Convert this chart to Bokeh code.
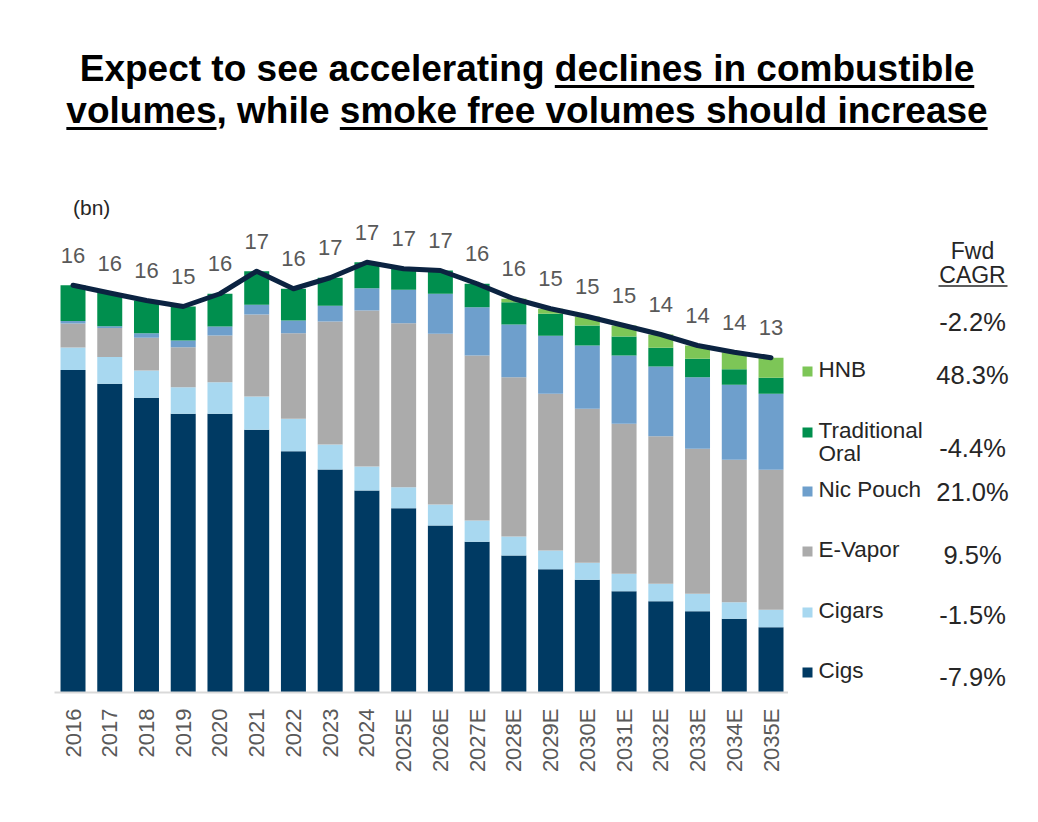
import math
from bokeh.plotting import figure
from bokeh.models import Range1d, FixedTicker, Label, Div, ColumnDataSource
from bokeh.layouts import column, row
from bokeh.embed import file_html
from bokeh.resources import INLINE
from bokeh.core.properties import value

# ---------------- data ----------------
years = ["2016", "2017", "2018", "2019", "2020", "2021", "2022", "2023", "2024",
         "2025E", "2026E", "2027E", "2028E", "2029E", "2030E", "2031E", "2032E",
         "2033E", "2034E", "2035E"]
cigs = [12.90, 12.35, 11.79, 11.15, 11.15, 10.51, 9.65, 8.92, 8.08, 7.37,
        6.68, 6.03, 5.48, 4.93, 4.51, 4.05, 3.65, 3.25, 2.95, 2.61]
cigars = [0.90, 1.07, 1.09, 1.06, 1.26, 1.33, 1.30, 1.00, 0.96, 0.84,
          0.84, 0.85, 0.76, 0.75, 0.68, 0.70, 0.70, 0.70, 0.66, 0.70]
e_vapor = [0.96, 1.16, 1.31, 1.60, 1.87, 3.28, 3.42, 4.92, 6.24, 6.56,
           6.83, 6.60, 6.37, 6.27, 6.16, 6.00, 5.90, 5.80, 5.70, 5.60]
nic_pouch = [0.10, 0.07, 0.18, 0.27, 0.36, 0.39, 0.51, 0.63, 0.89, 1.34,
             1.60, 1.93, 2.11, 2.32, 2.53, 2.73, 2.79, 2.86, 3.00, 3.04]
trad_oral = [1.43, 1.33, 1.31, 1.36, 1.31, 1.34, 1.27, 1.12, 1.04, 0.84,
             0.93, 0.94, 0.89, 0.88, 0.80, 0.76, 0.75, 0.74, 0.62, 0.64]
hnb = [0, 0, 0, 0, 0, 0, 0, 0, 0, 0,
       0, 0, 0.14, 0.20, 0.36, 0.44, 0.53, 0.53, 0.68, 0.80]

series_names = ["Cigs", "Cigars", "E-Vapor", "Nic Pouch", "Traditional\nOral", "HNB"]
series_cagr = ["-7.9%", "-1.5%", "9.5%", "21.0%", "-4.4%", "48.3%"]
total_cagr = "-2.2%"
colors = ["#003A63", "#A8D8F0", "#ABABAB", "#6E9FCC", "#008F4E", "#7DC657"]

# ---------------- derived ----------------
keys = ["cigs", "cigars", "e_vapor", "nic_pouch", "trad_oral", "hnb"]
series = [cigs, cigars, e_vapor, nic_pouch, trad_oral, hnb]
idx = list(range(len(years)))
totals = [sum(v) for v in zip(*series)]
tot_labels = [str(int(math.floor(t + 0.5))) for t in totals]

src = ColumnDataSource(dict(x=idx, total=totals, label=tot_labels,
                            **{k: v for k, v in zip(keys, series)}))

FONT = "Liberation Sans"
TXT = "#262626"
GRAY_TXT = "#595959"

# ---------------- title ----------------
U = "text-decoration:underline;text-decoration-thickness:3px;text-underline-offset:4px;"
title_html = (
    "<div style=\"width:1022px;box-sizing:border-box;padding-top:40px;padding-left:16px;"
    "text-align:center;font-family:'Liberation Sans',Arial,sans-serif;font-weight:bold;"
    "font-size:37px;line-height:42px;color:#000;\">"
    "Expect to see accelerating "
    f"<span style=\"{U}\">declines in combustible</span><br>"
    f"<span style=\"{U}\">volumes</span>, while "
    f"<span style=\"{U}\">smoke free volumes should increase</span>"
    "</div>"
)
title_div = Div(text=title_html, width=1022, height=150, margin=(0, 0, 0, 0))

# ---------------- main chart ----------------
p = figure(width=780, height=656,
           x_range=Range1d(-0.504, 19.476), y_range=Range1d(0, 20.88),
           output_backend="svg", toolbar_location=None,
           min_border_left=46, min_border_right=0, min_border_top=12,
           min_border_bottom=122)
p.background_fill_color = "white"
p.border_fill_color = "white"
p.outline_line_color = None
p.grid.visible = False
p.yaxis.visible = False

p.vbar_stack(keys, x="x", width=0.68, fill_color=colors, line_color=None, source=src)

p.line(x="x", y="total", source=src, line_width=5, line_color="#0B2341",
       line_join="round", line_cap="round")

p.text(x="x", y="total", text="label", source=src, text_align="center",
       text_baseline="alphabetic", y_offset=-30, text_font=value(FONT),
       text_font_size="22px", text_color=GRAY_TXT)

p.add_layout(Label(x=0.0, y=19.4, text="(bn)", text_align="left",
                   text_baseline="middle", text_font=FONT,
                   text_font_size="21px", text_color=TXT))

ax = p.xaxis[0]
ax.ticker = FixedTicker(ticks=idx)
ax.major_label_overrides = {i: y for i, y in enumerate(years)}
ax.major_label_orientation = math.pi / 2
ax.major_tick_line_color = None
ax.minor_tick_line_color = None
ax.axis_line_color = "#D9D9D9"
ax.axis_line_width = 2
ax.major_label_text_font = FONT
ax.major_label_text_font_size = "22px"
ax.major_label_text_color = GRAY_TXT
ax.major_label_standoff = 10

# ---------------- side panel: legend + CAGR (page-pixel coordinates) ----------------
s = figure(width=242, height=656, x_range=Range1d(788, 1030),
           y_range=Range1d(692, 170), output_backend="svg",
           toolbar_location=None, min_border_left=0, min_border_right=0,
           min_border_top=12, min_border_bottom=122)
s.outline_line_color = None
s.grid.visible = False
s.axis.visible = False
s.background_fill_color = "white"
s.border_fill_color = "white"

rev_names = series_names[::-1]
rev_colors = colors[::-1]
rev_cagr = series_cagr[::-1]
sq_y = [371, 432, 491, 551, 612, 672]
val_y = [374, 447, 491, 554, 614, 676]

s.scatter(x=[807] * len(sq_y), y=sq_y, marker="square", size=10,
          fill_color=rev_colors, line_color=None)

lx, ly, lt = [], [], []
for name, yy in zip(rev_names, sq_y):
    for j, part in enumerate(name.split("\n")):
        lx.append(818)
        ly.append(yy - 2 + j * 23)
        lt.append(part)
s.text(x=lx, y=ly, text=lt, text_align="left", text_baseline="middle",
       text_font=value(FONT), text_font_size="22.5px", text_color=TXT)

s.text(x=[972] * 7, y=[321] + val_y, text=[total_cagr] + rev_cagr,
       text_align="center", text_baseline="middle", text_font=value(FONT),
       text_font_size="25.5px", text_color=TXT)

s.text(x=[972, 972], y=[250, 274], text=["Fwd", "CAGR"], text_align="center",
       text_baseline="middle", text_font=value(FONT), text_font_size="23px",
       text_color=TXT)
s.segment(x0=[938], x1=[1007], y0=[285.5], y1=[285.5], line_width=1.5,
          line_color=TXT)

layout = column(title_div, row(p, s), margin=(8, 0, 0, 8))
open("out.html", "w").write(file_html(layout, INLINE))
